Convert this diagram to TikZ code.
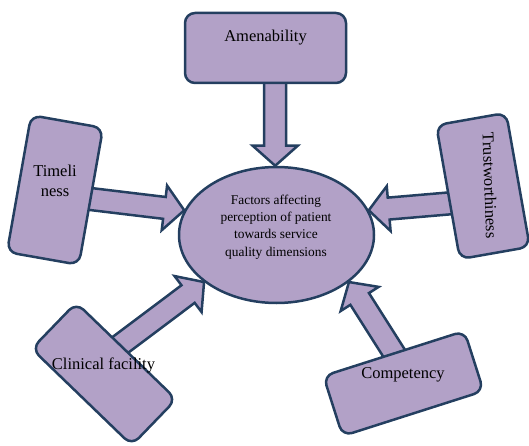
\documentclass[tikz,border=0pt]{standalone}
\usepackage{fontspec}
\setmainfont{Liberation Serif}
\usetikzlibrary{calc,shapes.geometric,backgrounds}
\definecolor{boxfill}{HTML}{B2A1C7}
\definecolor{boxline}{HTML}{243F60}
\tikzset{
  box/.style={draw=boxline, fill=boxfill, line width=2.5pt, rounded corners=10pt, inner sep=0pt},
  facbox/.style={ellipse, draw=boxline, fill=boxfill, line width=2.5pt, minimum width=195pt, minimum height=136pt, inner sep=0pt},
  lbl/.style={font=\fontsize{16.5}{20}\selectfont, inner sep=0pt, align=center},
  flbl/.style={font=\fontsize{13.4}{17.3}\selectfont, inner sep=0pt, align=center},
  arrowst/.style={draw=boxline, fill=boxfill, line width=2.5pt, line join=miter},
}
\newcommand\fatarrow[2]{%
  \coordinate (fa-a) at ($(#1)!-5pt!(#2)$);
  \coordinate (fa-h) at ($(#2)!20pt!(#1)$);
  \draw[arrowst] ($(fa-a)!11pt!90:(#2)$) -- ($(fa-h)!11pt!90:(#2)$) -- ($(fa-h)!22.5pt!90:(#2)$) -- (#2)
    -- ($(fa-h)!22.5pt!-90:(#2)$) -- ($(fa-h)!11pt!-90:(#2)$) -- ($(fa-a)!11pt!-90:(#2)$) -- cycle;}
\begin{document}
\begin{tikzpicture}[x=1pt,y=1pt]
\useasboundingbox (0,0) rectangle (529,445);
% central ellipse
\node[facbox] (fac) at (276.5,210) {};
\node[flbl] (factxt) at (276,218) {Factors affecting\\perception of patient\\towards service\\quality dimensions};
% boxes
\node[box, minimum width=161pt, minimum height=70pt] (amen) at (265.5,397) {};
\node[lbl] (amentxt) at (265.5,407) {Amenability};
\node[box, minimum width=73pt, minimum height=139pt, rotate=-10] (time) at (55,255) {};
\node[lbl] (timetxt) at (55,264) {Timeli\\ness};
\node[box, minimum width=71pt, minimum height=136pt, rotate=10] (trust) at (483,259) {};
\node[lbl, rotate=-88] (trusttxt) at (490,259.5) {Trustworthiness};
\node[box, minimum width=139pt, minimum height=64pt, rotate=-44] (clin) at (104,71) {};
\node[lbl] (clintxt) at (103.5,80) {Clinical facility};
\node[box, minimum width=148pt, minimum height=63pt, rotate=17.7] (comp) at (403.5,61.5) {};
\node[lbl] (comptxt) at (403,70) {Competency};
% arrows
\begin{pgfonlayer}{background}
\fatarrow{amen.-75}{amen.-75 |- fac.north}
\fatarrow{time.-4}{fac.165}
\fatarrow{trust.197}{fac.15}
\fatarrow{clin.104}{fac.213}
\fatarrow{comp.north}{fac.327}
\end{pgfonlayer}
\end{tikzpicture}
\end{document}
